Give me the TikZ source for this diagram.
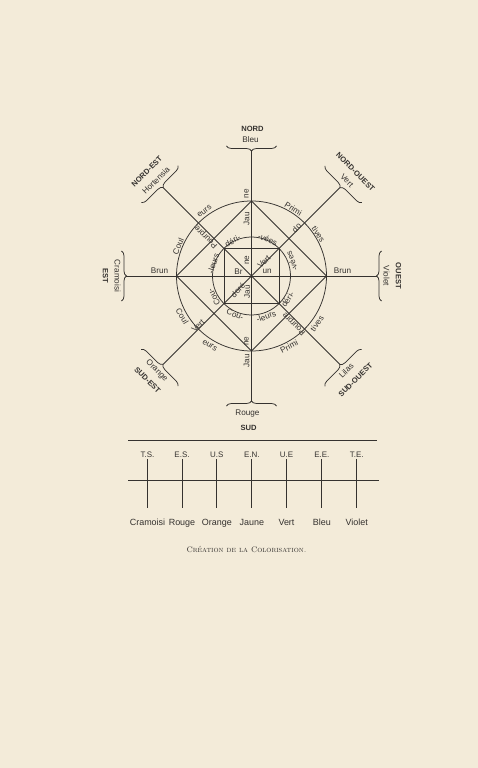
\documentclass[tikz,border=0pt]{standalone}
\usepackage{fontspec}
\setsansfont{Liberation Sans}
\usetikzlibrary{decorations.pathreplacing}

\definecolor{paper}{HTML}{F3EBD9}
\definecolor{ink}{HTML}{35322F}

\tikzset{
  curly/.style={decorate,decoration={brace,amplitude=5bp}},
  word/.style={font=\sffamily\fontsize{8.2}{9}\selectfont,inner sep=0.3bp},
  point/.style={font=\sffamily\bfseries\fontsize{7.6}{8}\selectfont,inner sep=0.5bp},
  hue/.style={font=\sffamily\fontsize{8.2}{9}\selectfont,inner sep=0.5bp},
  cell/.style={font=\sffamily\fontsize{9}{9}\selectfont,inner sep=0.5bp,text height=6.5bp,text depth=0bp,anchor=base},
  head/.style={font=\sffamily\fontsize{8}{9}\selectfont,inner sep=0.5bp,text height=6bp,text depth=0bp,anchor=base},
}

\begin{document}
\begin{tikzpicture}[x=1bp,y=1bp,line width=0.75bp,color=ink]
    % Page
    \fill[paper] (-251.5,-492) rectangle (226.5,276);

    % Centre and ends of the rays
    \coordinate (O) at (0,0);
    \coordinate (nord) at (90:125);
    \coordinate (sud) at (-90:125);
    \coordinate (est) at (180:125);
    \coordinate (ouest) at (0:125);
    \coordinate (nordest) at (135:125);
    \coordinate (nordouest) at (45:125);
    \coordinate (sudest) at (225:125);
    \coordinate (sudouest) at (-45:125);

    % Rays
    \draw (nord) -- (sud);
    \draw (est) -- (ouest);
    \draw (nordest) -- (sudouest);
    \draw (nordouest) -- (sudest);

    % Circles, lozenge and inner square
    \draw (O) circle (75);
    \draw (O) circle (39);
    \draw (75,0) -- (0,75) -- (-75,0) -- (0,-75) -- cycle;
    \draw (-27.5,-27.5) rectangle (27.5,27.5);

    % Braces at the ends of the rays
    \draw[curly,rotate=90] (130,-25) -- (130,25);
    \draw[curly,rotate=-90] (130,-25) -- (130,25);
    \draw[curly,rotate=180] (130,-25) -- (130,25);
    \draw[curly] (130,-25) -- (130,25);
    \draw[curly,rotate=135] (130,-26) -- (130,26);
    \draw[curly,rotate=45] (130,-26) -- (130,26);
    \draw[curly,rotate=225] (130,-26) -- (130,26);
    \draw[curly,rotate=-45] (130,-26) -- (130,26);

    % Points of the compass
    \node[point] (nordlbl) at (1,147) {NORD};
    \node[hue] (bleu) at (-1,136) {Bleu};
    \node[hue] (rouge) at (-4,-138) {Rouge};
    \node[point] (sudlbl) at (-3,-152) {SUD};
    \node[hue,rotate=-90] (cramoisi) at (180:134) {Cramoisi};
    \node[point,rotate=-90] (estlbl) at (180:146) {EST};
    \node[hue,rotate=-90] (violet) at (0:135) {Violet};
    \node[point,rotate=-90] (ouestlbl) at (0:147) {OUEST};
    \node[hue,rotate=45] (hortensia) at (135:135) {Hortensia};
    \node[point,rotate=45] (nordestlbl) at (135:148) {NORD-EST};
    \node[hue,rotate=-45] (vert) at (45:135) {Vert};
    \node[point,rotate=-45] (nordouestlbl) at (45:147) {NORD-OUEST};
    \node[hue,rotate=-45] (orange) at (225:134) {Orange};
    \node[point,rotate=-45] (sudestlbl) at (225:147) {SUD-EST};
    \node[hue,rotate=45] (lilas) at (-45:134) {Lilas};
    \node[point,rotate=45] (sudouestlbl) at (-45:147) {SUD-OUEST};

    % Words round the outer circle
    \node[word,rotate=67] (coulA) at (158:79) {Coul};
    \node[word,rotate=37] (eursA) at (126:80) {eurs};
    \node[word,rotate=-32] (primiA) at (58:79) {Primi};
    \node[word,rotate=-57] (tivesA) at (32:79) {tives};
    \node[word,rotate=28] (primiB) at (-62:80) {Primi};
    \node[word,rotate=53] (tivesB) at (-36:81) {tives};
    \node[word,rotate=-59] (coulB) at (-150:80) {Coul};
    \node[word,rotate=-32] (eursB) at (-121:81) {eurs};

    % Words on the diagonals
    \node[word,rotate=135] (pourpreA) at (139:60) {Pourpre};
    \node[word,rotate=45] (doA) at (47:66) {do};
    \node[word,rotate=135] (pourpreB) at (-48:64) {Pourpre};
    \node[word,rotate=45] (vertA) at (223:73) {Vert};

    % Words round the inner circle
    \node[word,rotate=28] (deriA) at (118:40) {déri-};
    \node[word,rotate=-24] (veesA) at (66:40) {-vées};
    \node[word,rotate=57] (deriB) at (-33:43) {déri-};
    \node[word,rotate=110] (veesB) at (20:43) {-vées};
    \node[word,rotate=119] (couA) at (209:43) {Cou-};
    \node[word,rotate=72] (leursA) at (162:40) {-leurs};
    \node[word,rotate=-22] (couB) at (247:42) {Cou-};
    \node[word,rotate=20] (leursB) at (290:43) {-leurs};

    % Words inside the square and on the axes
    \node[word] (br) at (-13,4.7) {Br};
    \node[word] (un) at (15.7,4.3) {un};
    \node[word,rotate=90] (neA) at (-4.5,16) {ne};
    \node[word,rotate=90] (jauA) at (-4.5,-15.7) {Jau};
    \node[word,rotate=45] (vertB) at (12.5,14.3) {Vert};
    \node[word,rotate=45] (dore) at (-13.5,-14.3) {doré};
    \node[word,rotate=90] (jauB) at (-5,57) {Jau};
    \node[word,rotate=90] (neB) at (-5,82) {ne};
    \node[word,rotate=90] (neC) at (-5,-65) {ne};
    \node[word,rotate=90] (jauC) at (-5,-85) {Jau};
    \node[word] (brunA) at (-92,5.5) {Brun};
    \node[word] (brunB) at (91,5.5) {Brun};

    % Table of the hues
    \draw (-123,-164) -- (125,-164);
    \draw (-123,-204) -- (127,-204);
    \node[head] (ts) at (-104,-181) {T.S.};
    \node[head] (es) at (-69.5,-181) {E.S.};
    \node[head] (us) at (-34.7,-181) {U.S};
    \node[head] (en) at (0.3,-181) {E.N.};
    \node[head] (ue) at (35,-181) {U.E};
    \node[head] (ee) at (70.3,-181) {E.E.};
    \node[head] (te) at (105.3,-181) {T.E.};
    \node[cell] (tcramoisi) at (-104,-249) {Cramoisi};
    \node[cell] (trouge) at (-69.5,-249) {Rouge};
    \node[cell] (torange) at (-34.7,-249) {Orange};
    \node[cell] (tjaune) at (0.3,-249) {Jaune};
    \node[cell] (tvert) at (35,-249) {Vert};
    \node[cell] (tbleu) at (70.3,-249) {Bleu};
    \node[cell] (tviolet) at (105.3,-249) {Violet};
    \draw[shorten <=1bp,shorten >=9.5bp] (ts) -- (tcramoisi);
    \draw[shorten <=1bp,shorten >=9.5bp] (es) -- (trouge);
    \draw[shorten <=1bp,shorten >=9.5bp] (us) -- (torange);
    \draw[shorten <=1bp,shorten >=9.5bp] (en) -- (tjaune);
    \draw[shorten <=1bp,shorten >=9.5bp] (ue) -- (tvert);
    \draw[shorten <=1bp,shorten >=9.5bp] (ee) -- (tbleu);
    \draw[shorten <=1bp,shorten >=9.5bp] (te) -- (tviolet);

    % Caption
    \node[font=\fontsize{8}{9}\selectfont] (caption) at (-5,-273) {\textsc{Création de la Colorisation.}};
\end{tikzpicture}
\end{document}
